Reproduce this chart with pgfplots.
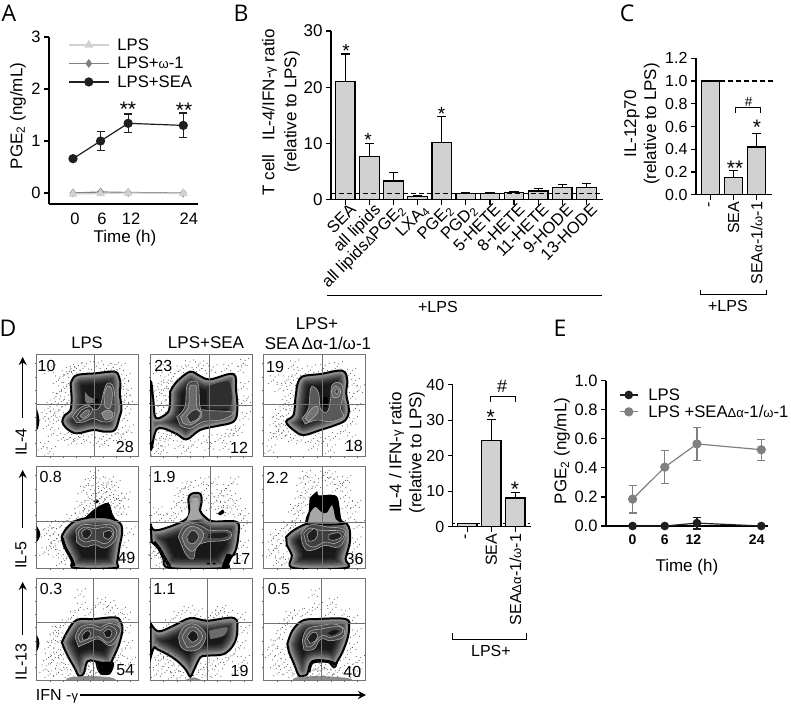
\documentclass[border=0pt]{standalone}
\usepackage{fontspec}
\usepackage{pgfplots}
\pgfplotsset{compat=1.18}
\usetikzlibrary{arrows.meta}
\setmainfont{Liberation Sans}
\newfontfamily\letterfont{Open Sans}
\newcommand\fs[1]{\fontsize{#1}{#1}\selectfont}
\newcommand\sg[1]{{\fontsize{13}{13}\selectfont #1}}
\newcommand\T[4][]{\node[inner sep=0pt,#1] at (#2pt,-#3pt) {#4};}
\definecolor{barg}{gray}{0.82}
\tikzset{nf/.style={font=\fs{16},inner sep=0pt}}
\pgfplotsset{
 chart/.style={scale only axis,axis x line=bottom,axis y line=left,
  axis line style={-,line width=1.2pt,black},tick align=outside,
  tick style={line width=1.2pt,black},major tick length=5pt,
  enlargelimits=false,anchor=south west,clip=false,
  ylabel style={anchor=center},xlabel style={anchor=center},
  every x tick/.style={line width=1.2pt,black},every y tick/.style={line width=1.2pt,black}},
 barp/.style={ybar,bar shift=0pt,fill=barg,draw=black,line width=1.2pt,bar width=#1pt,
  error bars/y dir=plus,error bars/y explicit,
  error bars/error bar style={line width=1.2pt,black},
  error bars/error mark options={line width=1.2pt,black,rotate=90,mark size=4.6pt}},
 pts/.style={line width=1.2pt,color=#1,
  error bars/y dir=both,error bars/y explicit,
  error bars/error bar style={line width=1.2pt,color=#1},
  error bars/error mark options={line width=1.2pt,color=#1,rotate=90,mark size=4pt}},
 flow/.style={scale only axis,width=102.4pt,enlargelimits=false,y dir=reverse,
  anchor=north west,axis line style={line width=.7pt,black!55},
  xticklabels={},yticklabels={},tick style={line width=.3pt,black!60},
  major tick length=1.5pt,tick align=outside,xtick pos=bottom,ytick pos=left},
}
% one flow-cytometry contour region: coordinates
\newcommand\blob[1]{%
 \addplot[fill=black!90,draw=none,smooth,tension=.6] coordinates {#1} --cycle;
 \pgfplotsextra{\begin{scope}
  \clip plot[smooth,tension=.6] coordinates {#1} --cycle;
  \foreach \w/\c in {22/85,18/78,14/70,11/62,8/54,6/46}{
   \draw[line width=\w pt,color=black!\c] plot[smooth,tension=.6] coordinates {#1} --cycle;}
 \end{scope}}
 \addplot[draw=black,line width=2pt,smooth,tension=.6] coordinates {#1} --cycle;
}
\newcommand\ctr[2][none]{\addplot[fill=#1,draw=black!30,line width=.55pt,smooth,tension=.7] coordinates {#2} --cycle;}
\newcommand\blk[2][black]{\addplot[fill=#1,draw=none,smooth,tension=.5] coordinates {#2} --cycle;}
\newcommand\spk[1]{%
 \addplot[only marks,mark=*,mark size=.24pt,black!75] coordinates {#1};
 \addplot[only marks,mark=*,mark size=.22pt,black!70,xshift=3.7pt,yshift=-2.3pt] coordinates {#1};
 \addplot[only marks,mark=*,mark size=.22pt,black!70,xshift=-2.9pt,yshift=4.1pt] coordinates {#1};
 \addplot[only marks,mark=*,mark size=.22pt,black!70,xshift=5.3pt,yshift=5.1pt] coordinates {#1};
 \addplot[only marks,mark=*,mark size=.22pt,black!70,xshift=-5.1pt,yshift=-3.3pt] coordinates {#1};
 \addplot[only marks,mark=*,mark size=.2pt,black!65,xshift=1.7pt,yshift=3.1pt] coordinates {#1};
 \addplot[only marks,mark=*,mark size=.2pt,black!65,xshift=-1.9pt,yshift=-1.7pt] coordinates {#1};}
\newcommand\cross[6]{% x0 x1 y0 y1 vx hy
 \addplot[black!55,line width=.6pt] coordinates {(#5,#3)(#5,#4)};
 \addplot[black!55,line width=.6pt] coordinates {(#1,#6)(#2,#6)};}
\pgfplotsset{ftk/.style={xtick={60,100,140,180,220,260,300},ytick={40,80,120,160,200,240,280}}}
\begin{document}
\begin{tikzpicture}
\useasboundingbox (0,0) rectangle (791pt,-706pt);
\fill[white] (0,0) rectangle (791pt,-706pt);
%------------------- A
\begin{axis}[chart,at={(49pt,-204pt)},width=149pt,height=167pt,
 xmin=-5.22,xmax=27.2,ymin=-0.2115,ymax=3,
 xtick={0,6,12,24},xticklabels={{\hspace*{4pt}0},{\hspace*{3pt}6},{\hspace*{6pt}12},{\hspace*{11pt}24}},
 xtick style={draw=none},ytick={0,1,2,3},yticklabels={0,1,2,3},
 tick label style={font=\fs{16.5}},
 xlabel={Time (h)},ylabel={PGE\textsubscript{2} (ng/mL)},
 label style={font=\fs{17}},
 ylabel style={at={(axis description cs:-0.208,0.527)}},
 xlabel style={at={(axis description cs:0.51,-0.204)}},
 legend style={at={(axis description cs:0.1275,1.006)},anchor=north west,draw=none,fill=none,
  inner sep=0pt,row sep=1pt,font=\fs{16.7},cells={anchor=west,inner ysep=0pt,text height=12pt,text depth=3pt}},
 legend image code/.code={\draw[mark repeat=2,mark phase=2,#1] plot coordinates {(0pt,0pt)(20pt,0pt)(40pt,0pt)};},
]
\addlegendimage{black!18,line width=1.2pt,mark=triangle*,mark size=4pt}
\addlegendentry{\hspace*{6pt}LPS}
\addlegendimage{black!50,line width=1.2pt,mark=diamond*,mark size=3.5pt}
\addlegendentry{\hspace*{6pt}LPS+\sg{ω}-1}
\addlegendimage{black!88,line width=1.2pt,mark=*,mark size=4pt}
\addlegendentry{\hspace*{6pt}LPS+SEA}
\addplot[forget plot,pts=black!88,mark=*,mark size=4pt] coordinates {(0,0.66) +- (0,0) (6,1.0) +- (0,0.19) (12,1.34) +- (0,0.18) (24,1.3) +- (0,0.24)};
\addplot[forget plot,black!50,line width=1.2pt,mark=diamond*,mark size=3.5pt] coordinates {(0,0)(6,0.02)(12,0.01)(24,0)};
\addplot[forget plot,black!18,line width=1.2pt,mark=triangle*,mark size=4pt] coordinates {(0,-0.02)(6,-0.01)(12,0)(24,-0.01)};
\end{axis}
\T[font=\fs{21}]{128}{109}{**}
\T[font=\fs{21}]{184}{110}{**}
%------------------- B
\begin{axis}[chart,at={(331pt,-199.5pt)},width=272pt,height=168.5pt,
 xmin=-0.593,xmax=10.69,ymin=0,ymax=30,
 xtick={0,...,10},
 xticklabels={SEA,all lipids,{all lipids\sg{Δ}PGE\textsubscript{2}},LXA\textsubscript{4},PGE\textsubscript{2},PGD\textsubscript{2},5-HETE,8-HETE,11-HETE,9-HODE,13-HODE},
 ytick={0,10,20,30},yticklabels={0,10,20,30},
 yticklabel style={font=\fs{17}},
 xticklabel style={font=\fs{16.5},rotate=45,anchor=north east,inner sep=1pt,xshift=5pt},
 ylabel={T cell\ \ \ IL-4/IFN-\sg{γ} ratio\\(relative to LPS)},
 xlabel={+LPS},
 ylabel style={align=center,font=\fontsize{17}{22}\selectfont,at={(axis description cs:-0.184,0.519)}},
 xlabel style={font=\fs{16},at={(axis description cs:0.393,-0.638)}},
]
\addplot[barp=19.5] coordinates {(0,21) +- (0,4.9) (1,7.7) +- (0,2.3) (2,3.3) +- (0,1.5) (3,0.6) +- (0,0.15) (4,10.2) +- (0,4.6) (5,1.1) +- (0,0.2) (6,1.1) +- (0,0.2) (7,1.2) +- (0,0.2) (8,1.5) +- (0,0.5) (9,2.1) +- (0,0.6) (10,2.2) +- (0,0.6)};
\addplot[black,line width=1.1pt,dash pattern=on 5pt off 3pt] coordinates {(-0.593,1)(10.69,1)};
\end{axis}
\draw[line width=1pt] (327pt,-295pt) -- (602pt,-295pt);
\T[font=\fs{19}]{346}{50.5}{*}
\T[font=\fs{19}]{368}{139.5}{*}
\T[font=\fs{19}]{441.5}{113.5}{*}
%------------------- C
\begin{axis}[chart,at={(696pt,-194.7pt)},width=76pt,height=136.4pt,
 xmin=-0.64,xmax=2.665,ymin=0,ymax=1.2,
 xtick={0,1,2},xticklabels={-,SEA,{SEA\sg{α}-1/\sg{ω}-1}},
 ytick={0,0.2,0.4,0.6,0.8,1,1.2},yticklabels={0.0,0.2,0.4,0.6,0.8,1.0,1.2},
 yticklabel style={font=\fs{16}},
 xticklabel style={font=\fs{16},rotate=90,anchor=east,inner sep=2pt},
 ylabel={IL-12p70\\(relative to LPS)},xlabel={+LPS},
 ylabel style={align=center,font=\fontsize{17}{20}\selectfont,at={(axis description cs:-0.71,0.518)}},
 xlabel style={font=\fs{16},at={(axis description cs:0.42,-0.816)}},
]
\addplot[barp=18] coordinates {(0,1) +- (0,0) (1,0.15) +- (0,0.065) (2,0.42) +- (0,0.12)};
\addplot[black,line width=1.1pt,dash pattern=on 5pt off 3pt] coordinates {(0.42,1)(2.84,1)};
\end{axis}
\draw[line width=1pt] (735.3pt,-112.7pt) -- (735.3pt,-107.3pt) -- (760pt,-107.3pt) -- (760pt,-112.7pt);
\draw[line width=1pt] (700pt,-290pt) -- (700pt,-294.7pt) -- (766.7pt,-294.7pt) -- (766.7pt,-290pt);
\T[font=\fs{13.5}]{748.7}{101.7}{\#}
\T[font=\fs{21}]{735}{168.5}{**}
\T[font=\fs{21}]{757}{127.5}{*}
%------------------- D bars
\begin{axis}[chart,at={(452.7pt,-526.7pt)},width=78pt,height=142pt,
 xmin=-0.608,xmax=2.64,ymin=0,ymax=40,
 xtick={0,1,2},xticklabels={-,SEA,{SEA\sg{Δα}-1/\sg{ω}-1}},
 ytick={0,10,20,30,40},yticklabels={0,10,20,30,40},
 yticklabel style={font=\fs{16}},
 xticklabel style={font=\fs{16},rotate=90,anchor=east,inner sep=2pt},
 ylabel={IL-4 / IFN-\sg{γ} ratio\\(relative to LPS)},xlabel={LPS+},
 ylabel style={align=center,font=\fontsize{17}{20}\selectfont,at={(axis description cs:-0.586,0.5225)}},
 xlabel style={font=\fs{16},at={(axis description cs:0.49,-0.875)}},
]
\addplot[black,line width=.8pt,dash pattern=on 2pt off 3pt] coordinates {(-0.608,1)(2.64,1)};
\addplot[barp=19.3] coordinates {(0,1) +- (0,0) (1,24.2) +- (0,6) (2,8.1) +- (0,1.5)};
\end{axis}
\draw[line width=1pt] (490pt,-402pt) -- (490pt,-396.3pt) -- (515pt,-396.3pt) -- (515pt,-402pt);
\draw[line width=1pt] (452.7pt,-633pt) -- (452.7pt,-639pt) -- (526.7pt,-639pt) -- (526.7pt,-633pt);
\T[font=\fs{18}]{502}{386.7}{\#}
\T[font=\fs{21}]{490.7}{417.5}{*}
\T[font=\fs{21}]{515}{489.5}{*}
%------------------- E
\begin{axis}[chart,at={(606pt,-526pt)},width=161.7pt,height=145.3pt,
 xmin=-4.96,xmax=25.2,ymin=0,ymax=1,
 xtick={0,6,12,24},xticklabels={{0},{6},{12\hspace*{7pt}},{24\hspace*{9pt}}},
 xtick style={draw=none},
 ytick={0,0.2,0.4,0.6,0.8,1},yticklabels={0.0,0.2,0.4,0.6,0.8,1.0},
 yticklabel style={font=\fs{16.5}},
 xticklabel style={font=\bfseries\fs{14}},
 xlabel={Time (h)},ylabel={PGE\textsubscript{2} (ng/mL)},
 label style={font=\fs{17}},
 ylabel style={at={(axis description cs:-0.272,0.516)}},
 xlabel style={at={(axis description cs:0.5,-0.282)}},
 legend style={at={(axis description cs:0.08,0.9635)},anchor=north west,draw=none,fill=none,
  inner sep=0pt,row sep=-0.6pt,font=\fs{16.7},cells={anchor=west,inner ysep=0pt,text height=12pt,text depth=3pt}},
 legend image code/.code={\draw[mark repeat=2,mark phase=2,#1] plot coordinates {(0pt,0pt)(9pt,0pt)(18pt,0pt)};},
]
\addplot[mark=*,mark size=3.7pt,pts=black!88] coordinates {(0,0) +- (0,0) (6,0) +- (0,0) (12,0.02) +- (0,0.04) (24,0) +- (0,0)};
\addlegendentry{\hspace*{8pt}LPS}
\addplot[mark=*,mark size=4pt,pts=black!50] coordinates {(0,0.185) +- (0,0.095) (6,0.405) +- (0,0.115) (12,0.565) +- (0,0.115) (24,0.525) +- (0,0.072)};
\addlegendentry{\hspace*{8pt}LPS +SEA\sg{Δα}-1/\sg{ω}-1}
\end{axis}
%------------------- D flow: row 1
\begin{axis}[flow,at={(36pt,-354.7pt)},height=102pt,xmin=18,xmax=326,ymin=14,ymax=320,ftk]
\spk{(60,60)(85,90)(95,120)(105,75)(78,140)(110,110)(118,65)(140,55)(165,50)(200,48)(230,55)(270,55)(285,85)(290,130)(292,170)(283,205)(295,240)(275,262)(240,265)(205,275)(170,270)(130,275)(100,262)(70,250)(55,225)(70,195)(60,170)(90,180)(85,210)(112,160)(100,150)(120,262)(150,262)(225,280)(262,248)(285,150)(280,110)(130,62)(250,52)(45,200)(40,290)(60,305)}
\blk{(20,175)(26,195)(28,215)(24,235)(20,240)}
\blob{(122,100)(135,78)(160,72)(195,70)(240,65)(262,68)(272,100)(270,130)(275,175)(268,205)(255,240)(225,245)(190,240)(140,250)(110,235)(97,215)(105,195)(122,180)(125,140)}
\ctr[black!72]{(128,200)(145,178)(172,165)(192,178)(210,170)(222,125)(232,100)(248,105)(255,140)(255,185)(245,212)(215,215)(190,205)(165,215)(140,218)}
\ctr[black!80]{(140,200)(155,180)(178,170)(188,178)(175,200)(150,212)}
\ctr[black!60]{(150,198)(165,183)(178,180)(175,195)(160,205)}
\ctr[black!50]{(215,190)(232,180)(248,188)(245,205)(225,208)}
\ctr[black!60]{(222,135)(232,110)(245,115)(247,145)(240,175)(225,170)}
\blk[black!55]{(165,125)(178,140)(200,150)(190,158)(170,160)(165,145)}
\blk[black]{(190,150)(205,146)(208,153)(195,157)}
\cross{18}{326}{14}{320}{193}{162}
\node[nf] at (axis cs:50,47) {10}; \node[nf] at (axis cs:285,290) {28};
\end{axis}
\begin{axis}[flow,at={(150pt,-354.7pt)},height=102pt,xmin=360,xmax=667,ymin=14,ymax=320,xtick={400,440,480,520,560,600,640},ytick={40,80,120,160,200,240,280}]
\spk{(385,60)(400,90)(395,130)(410,110)(430,80)(450,60)(475,45)(515,55)(545,60)(590,55)(630,60)(640,110)(635,160)(645,200)(625,240)(600,250)(570,265)(530,270)(490,285)(450,285)(420,265)(395,260)(385,280)(400,300)(540,290)(585,290)(410,150)(390,165)(395,180)(378,120)(425,250)(650,150)(430,105)(505,48)(612,250)(640,40)(380,305)(470,300)}
\blob{(420,125)(440,95)(480,65)(510,78)(540,88)(610,72)(618,120)(622,180)(610,215)(560,228)(510,240)(470,268)(440,252)(400,235)(380,238)(372,260)(362,290)(362,100)(370,150)(374,195)(385,205)(415,185)(420,150)}
\blk[black!82]{(530,110)(595,95)(605,150)(590,175)(530,175)}
\ctr[black!70]{(440,200)(465,170)(470,110)(488,93)(505,105)(510,170)(525,180)(600,185)(605,195)(570,210)(520,215)(480,235)(450,225)}
\ctr[black!58]{(452,200)(475,170)(478,115)(490,105)(500,115)(500,170)(515,185)(510,205)(480,225)(458,218)}
\ctr[black!80]{(470,200)(490,180)(510,185)(505,205)(480,218)}
\cross{360}{667}{14}{320}{538}{165}
\node[nf] at (axis cs:400,47) {23}; \node[nf] at (axis cs:627,293) {12};
\end{axis}
\begin{axis}[flow,at={(263.3pt,-354.7pt)},height=102pt,xmin=700,xmax=1005,ymin=14,ymax=320,xtick={740,780,820,860,900,940,980},ytick={40,80,120,160,200,240,280}]
\spk{(730,90)(750,115)(770,90)(780,130)(765,160)(785,170)(745,190)(735,215)(755,220)(745,240)(770,255)(790,265)(815,270)(850,265)(880,275)(915,260)(945,240)(965,215)(975,175)(965,140)(970,100)(960,70)(920,50)(880,55)(840,60)(800,70)(785,100)(775,190)(755,250)(730,260)(850,290)(900,300)(960,270)(985,120)(790,45)(720,300)}
\blob{(800,110)(815,80)(870,72)(935,62)(950,90)(947,130)(955,180)(945,210)(915,225)(870,240)(820,255)(790,240)(768,215)(790,195)(795,150)}
\ctr[black!65]{(815,205)(835,175)(840,120)(850,110)(865,130)(870,175)(890,185)(900,150)(905,105)(930,100)(938,130)(930,175)(938,200)(900,215)(860,210)(825,222)}
\ctr[black!55]{(825,205)(845,175)(862,170)(860,190)(835,215)}
\ctr[black!60]{(903,125)(915,108)(930,120)(925,140)(908,142)}
\ctr[black!75]{(912,125)(918,116)(925,124)(918,133)}
\blk[black]{(875,145)(890,140)(893,165)(882,170)(872,158)}
\cross{700}{1005}{14}{320}{877}{163}
\node[nf] at (axis cs:735,50) {19}; \node[nf] at (axis cs:970,288) {18};
\end{axis}
%------------------- D flow: row 2
\begin{axis}[flow,at={(36pt,-466.7pt)},height=101.3pt,xmin=18,xmax=326,ymin=14,ymax=318,ftk]
\spk{(160,85)(175,65)(190,95)(205,60)(215,85)(230,75)(240,100)(255,70)(260,110)(270,125)(180,110)(150,130)(165,140)(195,125)(215,105)(225,115)(250,125)(205,135)(172,155)(145,165)(280,150)(265,150)(235,60)(190,40)(285,105)(60,190)(75,210)(65,245)(85,275)(45,270)(95,300)(80,230)(70,255)(110,290)(50,215)(280,250)(285,285)(300,210)(95,190)(120,170)}
\blk{(20,192)(28,205)(31,218)(26,232)(20,240)}
\blk{(192,118)(200,112)(208,118)(200,124)}
\blk{(160,172)(195,140)(235,122)(248,155)(258,182)(200,172)}
\blob{(95,225)(105,205)(130,180)(160,170)(195,165)(240,168)(272,185)(277,215)(270,250)(262,300)(255,318)(135,318)(125,295)(103,250)}
\addplot[black,line width=3pt,smooth] coordinates {(97,228)(105,255)(127,295)(132,312)};
\ctr[black!72]{(138,205)(160,188)(200,190)(240,188)(260,205)(255,235)(225,258)(195,248)(165,255)(140,240)}
\ctr[black!75]{(145,210)(165,195)(195,200)(235,195)(252,210)(245,232)(225,245)(195,235)(165,240)(148,228)}
\ctr[black!88]{(155,212)(170,200)(185,210)(175,228)(160,228)}
\ctr[black!88]{(220,212)(240,205)(248,218)(235,232)(222,225)}
\cross{18}{326}{14}{318}{196}{178}
\node[nf] at (axis cs:62,45) {0.8}; \node[nf] at (axis cs:290,287) {49};
\end{axis}
\begin{axis}[flow,at={(150pt,-466.7pt)},height=101.3pt,xmin=360,xmax=667,ymin=14,ymax=318,xtick={400,440,480,520,560,600,640},ytick={40,80,120,160,200,240,280}]
\spk{(450,90)(465,75)(440,130)(455,115)(470,135)(530,80)(550,60)(570,95)(590,80)(600,110)(615,125)(580,130)(560,115)(545,135)(610,60)(530,110)(600,150)(630,155)(635,200)(640,250)(625,290)(440,165)(420,170)(395,170)(380,150)(380,280)(395,300)(372,268)(405,305)(390,270)(430,300)(640,170)(575,145)(520,60)(480,70)}
\blk{(562,155)(578,143)(583,152)(570,160)}
\blob{(362,185)(375,205)(430,190)(470,170)(478,150)(475,110)(485,95)(510,95)(515,120)(510,145)(525,165)(550,178)(620,180)(625,220)(615,270)(590,300)(585,318)(420,318)(400,290)(385,260)(365,240)}
\addplot[black,line width=3pt,smooth] coordinates {(372,240)(390,262)(405,290)(420,315)};
\blk{(590,275)(607,280)(600,300)(590,318)(575,318)(580,300)}
\blk{(530,303)(540,303)(540,307)(530,307)}
\blk{(548,303)(557,303)(557,307)(548,307)}
\blk[black!35]{(480,150)(485,110)(505,110)(505,145)(515,170)(470,175)}
\ctr[black!70]{(445,225)(460,195)(490,185)(520,195)(540,205)(590,205)(605,220)(585,235)(530,240)(500,255)(490,290)(470,280)(455,250)}
\ctr[black!62]{(455,225)(470,200)(490,193)(515,205)(520,225)(505,250)(485,268)(465,250)}
\ctr[black!82]{(470,225)(485,205)(500,212)(505,228)(490,245)(475,240)}
\blk[black!88]{(535,215)(585,212)(595,220)(570,228)(535,228)}
\cross{360}{667}{14}{318}{541}{181}
\node[nf] at (axis cs:403,45) {1.9}; \node[nf] at (axis cs:634,292) {17};
\end{axis}
\begin{axis}[flow,at={(263.3pt,-466.7pt)},height=101.3pt,xmin=700,xmax=1005,ymin=14,ymax=318,xtick={740,780,820,860,900,940,980},ytick={40,80,120,160,200,240,280}]
\spk{(815,60)(830,90)(820,120)(810,145)(800,170)(795,190)(840,55)(860,70)(880,40)(905,60)(920,80)(935,70)(945,100)(950,130)(960,165)(945,55)(975,130)(745,215)(755,245)(735,260)(755,285)(770,300)(725,275)(745,300)(780,200)(770,190)(730,230)(965,270)(975,240)(965,300)(825,40)(790,140)(810,100)(900,45)(985,190)}
\blob{(768,225)(790,205)(830,185)(875,178)(935,180)(955,195)(958,240)(945,290)(945,318)(790,318)(785,280)(770,250)}
\blk{(838,108)(860,88)(865,100)(902,98)(922,108)(932,170)(940,188)(830,188)(835,150)}
\blk[black!35]{(840,152)(855,135)(875,152)(890,152)(905,130)(915,170)(925,184)(832,184)}
\ctr[black!72]{(812,215)(835,190)(870,190)(890,195)(935,200)(945,220)(925,255)(885,250)(860,260)(830,265)(815,240)}
\ctr[black!75]{(820,215)(840,198)(870,205)(935,208)(935,230)(910,245)(885,240)(850,255)(828,245)}
\ctr[black!88]{(830,218)(850,200)(862,210)(855,232)(835,238)}
\ctr[black!88]{(895,218)(925,212)(932,225)(910,235)(895,232)}
\cross{700}{1005}{14}{318}{877}{181}
\node[nf] at (axis cs:742,48) {2.2}; \node[nf] at (axis cs:972,290) {36};
\end{axis}
%------------------- D flow: row 3
\begin{axis}[flow,at={(36pt,-578.7pt)},height=101.3pt,xmin=18,xmax=324,ymin=14,ymax=318,ftk]
\spk{(150,100)(180,115)(210,85)(240,110)(270,115)(285,130)(130,125)(105,150)(85,170)(70,195)(60,215)(80,235)(95,265)(70,260)(110,280)(120,300)(55,250)(45,285)(85,295)(170,285)(185,290)(200,295)(175,305)(165,280)(260,260)(270,240)(290,215)(285,170)(300,265)(150,60)(235,95)(90,200)(75,170)(60,300)(100,240)}
\blk{(20,183)(26,195)(28,210)(24,225)(20,232)}
\blob{(95,205)(110,175)(130,145)(150,135)(190,135)(255,130)(272,145)(276,170)(265,215)(245,260)(240,272)(195,262)(172,262)(160,300)(145,305)(135,285)(115,250)(103,225)}
\blk{(195,265)(250,265)(240,300)(212,302)(200,285)}
\blk[black!45]{(107,318)(120,310)(180,306)(240,310)(258,318)}
\ctr[black!70]{(135,190)(150,160)(185,152)(210,160)(235,148)(268,160)(265,185)(240,215)(205,195)(175,205)(145,218)}
\ctr[black!72]{(143,190)(160,165)(185,160)(210,170)(235,155)(258,170)(250,195)(230,205)(205,188)(175,195)(150,205)}
\ctr[black!90]{(155,185)(170,170)(182,178)(172,195)(158,198)}
\ctr[black!90]{(220,175)(235,165)(245,175)(238,190)(225,188)}
\cross{18}{324}{14}{318}{190}{144}
\node[nf] at (axis cs:63,46) {0.3}; \node[nf] at (axis cs:285,288) {54};
\end{axis}
\begin{axis}[flow,at={(150pt,-578.7pt)},height=101.3pt,xmin=360,xmax=665,ymin=14,ymax=318,xtick={400,440,480,520,560,600,640},ytick={40,80,120,160,200,240,280}]
\spk{(440,125)(470,110)(500,120)(540,125)(570,110)(590,125)(630,130)(640,170)(630,215)(610,240)(595,255)(570,265)(545,270)(520,280)(505,295)(420,260)(400,250)(385,270)(410,290)(440,285)(455,305)(430,305)(380,300)(390,240)(620,290)(640,260)(530,300)(560,300)(415,150)(565,120)}
\blk[black!45]{(465,318)(490,310)(512,318)}
\blob{(362,148)(385,172)(430,155)(480,132)(530,140)(610,132)(620,170)(610,210)(580,240)(530,245)(510,250)(490,290)(480,308)(465,285)(440,260)(410,240)(380,225)(372,220)(362,250)}
\ctr[black!68]{(445,190)(460,160)(490,150)(520,170)(525,195)(505,225)(470,230)(450,215)}
\ctr[black!65]{(455,190)(470,165)(490,158)(512,175)(515,195)(495,215)(470,220)}
\ctr[black!90]{(470,188)(485,170)(500,178)(502,195)(485,205)}
\blk[black!58]{(535,170)(590,160)(580,185)(540,195)}
\cross{360}{665}{14}{318}{532}{146}
\node[nf] at (axis cs:403,46) {1.1}; \node[nf] at (axis cs:627,291) {19};
\end{axis}
\begin{axis}[flow,at={(263.3pt,-578.7pt)},height=101.3pt,xmin=698,xmax=1005,ymin=14,ymax=318,xtick={740,780,820,860,900,940,980},ytick={40,80,120,160,200,240,280}]
\spk{(800,120)(830,115)(860,100)(900,115)(940,120)(965,140)(975,180)(965,220)(945,250)(960,280)(985,260)(755,160)(745,190)(730,210)(750,235)(760,265)(735,270)(775,290)(745,295)(790,300)(720,240)(770,150)(850,285)(865,300)(880,280)(895,295)(910,300)(925,290)(845,300)(870,275)(975,300)(775,125)(905,85)(850,60)}
\blob{(770,210)(785,170)(815,140)(860,135)(945,135)(955,160)(950,195)(935,235)(920,262)(910,280)(890,262)(845,262)(830,300)(820,305)(805,305)(790,270)(775,235)}
\addplot[black,line width=3pt,smooth] coordinates {(835,295)(845,265)(890,262)(918,272)};
\blk[black!45]{(785,318)(800,310)(870,306)(950,312)(965,318)}
\ctr[black!70]{(815,200)(830,165)(870,155)(910,150)(940,165)(935,190)(900,200)(870,195)(850,225)(820,228)}
\ctr[black!72]{(822,200)(838,172)(870,165)(925,158)(935,175)(900,190)(872,185)(845,215)(828,218)}
\ctr[black!88]{(830,195)(845,175)(860,180)(855,200)(838,208)}
\blk[black!92]{(890,178)(910,168)(925,172)(905,185)}
\cross{698}{1005}{14}{318}{872}{148}
\node[nf] at (axis cs:745,46) {0.5}; \node[nf] at (axis cs:965,293) {40};
\end{axis}
%------------------- D annotations
\T[font=\fs{16.6}]{87}{343}{LPS}
\T[font=\fs{17}]{206}{343}{LPS+SEA}
\T[font=\fs{17}]{317}{324}{LPS+}
\T[font=\fs{17}]{318}{343}{SEA\,Δα-1/ω-1}
\draw[-{Stealth[length=8pt,width=8pt]},line width=1.3pt] (22.7pt,-418pt) -- (22.7pt,-357pt);
\draw[-{Stealth[length=8pt,width=8pt]},line width=1.3pt] (22.7pt,-528pt) -- (22.7pt,-470pt);
\draw[-{Stealth[length=8pt,width=8pt]},line width=1.3pt] (22.7pt,-635pt) -- (22.7pt,-582pt);
\draw[-{Stealth[length=8pt,width=8pt]},line width=1.3pt] (80pt,-695pt) -- (366pt,-695pt);
\T[font=\fs{16},rotate=90]{21}{442}{IL-4}
\T[font=\fs{16},rotate=90]{21}{555}{IL-5}
\T[font=\fs{16},rotate=90]{21}{662}{IL-13}
\T[font=\fs{16}]{57}{696}{IFN -\sg{γ}}
%------------------- panel letters
\T[font=\letterfont\fs{23}]{9}{13}{A}
\T[font=\letterfont\fs{23}]{241}{13}{B}
\T[font=\letterfont\fs{23}]{627}{13}{C}
\T[font=\letterfont\fs{23}]{8}{328}{D}
\T[font=\letterfont\fs{23}]{560}{328}{E}
\end{tikzpicture}
\end{document}
